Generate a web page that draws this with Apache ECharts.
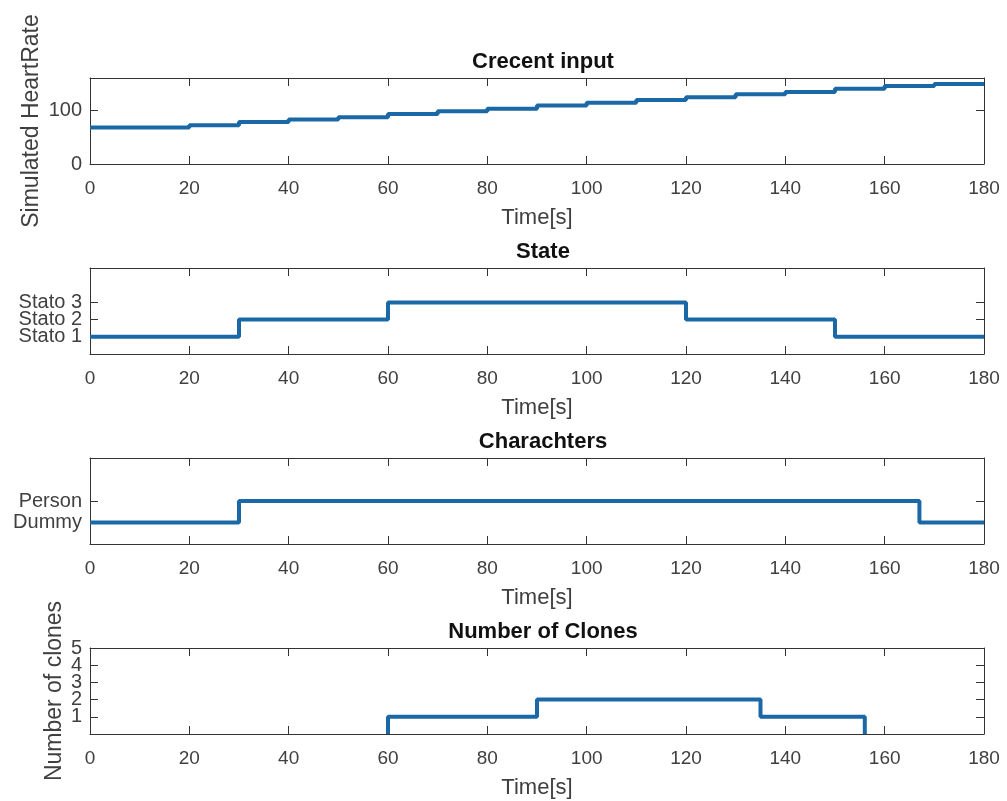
<!DOCTYPE html>
<html>
<head>
<meta charset="utf-8">
<title>Simulation</title>
<script src="https://cdn.jsdelivr.net/npm/echarts@6/dist/echarts.min.js"></script>
<style>
    html, body { margin: 0; padding: 0; background: #fff; }
    #main { width: 1007px; height: 801px; }
</style>
</head>
<body>
<div id="main"></div>
<script>
    // time ticks shared by every panel
    var timeTicks = [0, 20, 40, 60, 80, 100, 120, 140, 160, 180];

    // Crecent input: heart rate steps (value holds until next time)
    var hrTimes = [0, 20, 30, 40, 50, 60, 70, 80, 90, 100, 110, 120, 130, 140, 150, 160, 170, 180];
    var hrValues = [68, 72, 78, 83, 87, 93, 98, 103, 109, 114, 119, 124, 130, 134, 140, 145, 149, 149];

    // State
    var stateTimes = [0, 30, 60, 120, 150, 180];
    var stateValues = [1, 2, 3, 2, 1, 1];
    var stateLabels = ['Stato 1', 'Stato 2', 'Stato 3'];

    // Charachters (1 = Dummy, 2 = Person)
    var charTimes = [0, 30, 167, 180];
    var charValues = [1, 2, 1, 1];
    var charLabels = ['Dummy', 'Person'];

    // Number of clones
    var cloneTimes = [60, 60, 90, 135, 156];
    var cloneValues = [0, 1, 2, 1, 0];

    var LINE = '#1a68a5';
    var AXIS = '#333333';
    var TEXT = '#404040';
    var FONT = '"Liberation Sans", Arial, sans-serif';

    var panels = [
        { title: 'Crecent input', top: 78, times: hrTimes, values: hrValues,
          yMin: 0, yMax: 160, yTicks: [0, 100], yFmt: null,
          yName: 'Simulated HeartRate', yGap: 47 },
        { title: 'State', top: 268, times: stateTimes, values: stateValues,
          yMin: 0, yMax: 5, yTicks: [1, 2, 3], yFmt: function (v) { return stateLabels[v - 1]; },
          yName: '', yGap: 0 },
        { title: 'Charachters', top: 458, times: charTimes, values: charValues,
          yMin: 0, yMax: 4, yTicks: [1, 2], yFmt: function (v) { return charLabels[v - 1]; },
          yName: '', yGap: 0 },
        { title: 'Number of Clones', top: 648, times: cloneTimes, values: cloneValues,
          yMin: 0, yMax: 5, yTicks: [1, 2, 3, 4, 5], yFmt: null,
          yName: 'Number of clones', yGap: 24 }
    ];

    var option = {
        animation: false,
        backgroundColor: '#fff',
        title: [],
        grid: [],
        xAxis: [],
        yAxis: [],
        series: []
    };

    panels.forEach(function (p, i) {
        option.grid.push({ left: 90, right: 23, top: p.top, height: 86, outerBoundsMode: 'none' });

        option.title.push({
            text: p.title,
            left: 538,
            top: p.top - 32,
            textAlign: 'center',
            textStyle: { fontFamily: FONT, fontSize: 22, fontWeight: 'bold', color: '#111' }
        });

        // bottom x axis with labels, top one only for the box + ticks
        option.xAxis.push({
            type: 'value', gridIndex: i, min: 0, max: 180, interval: 20, position: 'bottom',
            name: 'Time[s]', nameLocation: 'middle', nameGap: 43,
            nameTextStyle: { fontFamily: FONT, fontSize: 22, color: TEXT },
            axisLine: { onZero: false, lineStyle: { color: AXIS, width: 1 } },
            axisTick: { inside: true, length: 8, lineStyle: { color: AXIS } },
            axisLabel: { fontFamily: FONT, fontSize: 19, color: TEXT, margin: 15,
                customValues: timeTicks },
            splitLine: { show: false }
        });
        option.xAxis.push({
            type: 'value', gridIndex: i, min: 0, max: 180, interval: 20, position: 'top',
            axisLine: { onZero: false, lineStyle: { color: AXIS, width: 1 } },
            axisTick: { inside: true, length: 8, lineStyle: { color: AXIS } },
            axisLabel: { show: false },
            splitLine: { show: false }
        });

        // left axis: line, ticks and name
        var yIndex = option.yAxis.length;
        option.yAxis.push({
            type: 'value', gridIndex: i, min: p.yMin, max: p.yMax, position: 'left',
            name: p.yName, nameLocation: 'middle', nameGap: p.yGap, nameMoveOverlap: false,
            nameTextStyle: { fontFamily: FONT, fontSize: 23, color: TEXT },
            axisLine: { onZero: false, lineStyle: { color: AXIS, width: 1 } },
            axisTick: { inside: true, length: 8, lineStyle: { color: AXIS }, customValues: p.yTicks },
            axisLabel: { show: false },
            splitLine: { show: false }
        });
        // one extra axis per tick label, the labels sit closer than echarts likes
        p.yTicks.forEach(function (v) {
            option.yAxis.push({
                type: 'value', gridIndex: i, min: p.yMin, max: p.yMax, position: 'left', offset: 0,
                axisLine: { show: false, onZero: false },
                axisTick: { show: false },
                axisLabel: { fontFamily: FONT, fontSize: 20, color: TEXT, margin: 8,
                    customValues: [v], formatter: p.yFmt || '{value}' },
                splitLine: { show: false }
            });
        });
        option.yAxis.push({
            type: 'value', gridIndex: i, min: p.yMin, max: p.yMax, position: 'right',
            axisLine: { onZero: false, lineStyle: { color: AXIS, width: 1 } },
            axisTick: { inside: true, length: 8, lineStyle: { color: AXIS }, customValues: p.yTicks },
            axisLabel: { show: false },
            splitLine: { show: false }
        });

        option.series.push({
            type: 'line',
            xAxisIndex: 2 * i,
            yAxisIndex: yIndex,
            step: 'end',
            showSymbol: false,
            symbol: 'none',
            lineStyle: { color: LINE, width: 4 },
            data: p.times.map(function (t, k) { return [t, p.values[k]]; })
        });
    });

    var chart = echarts.init(document.getElementById('main'));
    chart.setOption(option);
</script>
</body>
</html>
